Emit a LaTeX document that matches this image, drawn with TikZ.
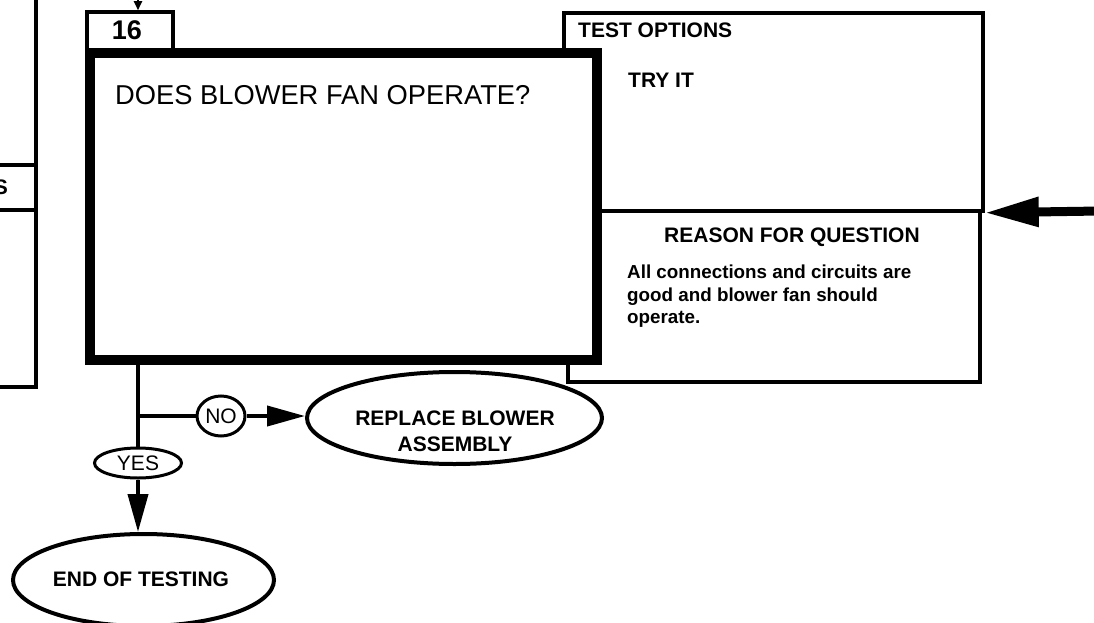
\documentclass[tikz,border=0pt]{standalone}
\usepackage{fontspec}
\setmainfont{Liberation Sans}
\usetikzlibrary{arrows.meta,shapes.geometric}
\begin{document}
\begin{tikzpicture}[x=1pt,y=-1pt,
  thinbox/.style={draw, rectangle, line width=3.5pt, inner sep=0pt},
  thickbox/.style={draw, rectangle, line width=10pt, inner sep=0pt, fill=white},
  oval/.style={draw, ellipse, line width=4pt, inner sep=0pt, fill=white},
  smalloval/.style={draw, ellipse, line width=3pt, inner sep=0pt, fill=white},
  hdr/.style={inner sep=0pt, font=\fontsize{21}{25}\selectfont\bfseries},
  lbl/.style={inner sep=0pt, font=\fontsize{21}{25}\selectfont},
  conn/.style={line width=4pt},
  bigtip/.style={-{Triangle[length=54pt,width=28pt]}},
  midtip/.style={-{Triangle[length=38pt,width=20pt]}}
]
\useasboundingbox (0,0) rectangle (1094,623);

% previous step box (cut off at left)
\node[thinbox, minimum width=96pt, minimum height=407pt] (prevbox) at (-12,183.5) {};
\draw[line width=3.5pt] (prevbox.west |- 0,165) -- (prevbox.east |- 0,165);
\draw[line width=3.5pt] (prevbox.west |- 0,210) -- (prevbox.east |- 0,210);
\node[hdr, anchor=east] (prevhdr) at (8,187) {S};

% test options / reason boxes
\node[thinbox, minimum width=419pt, minimum height=198pt] (testbox) at (773.5,112) {};
\node[thinbox, minimum width=412pt, minimum height=171pt] (reasonbox) at (774,296.5) {};
\node[hdr, anchor=west] (testhdr) at (578,30) {TEST OPTIONS};
\node[hdr, anchor=west] (tryit) at (628,80) {TRY IT};
\node[hdr, anchor=west] (reasonhdr) at (664,237) {REASON FOR QUESTION};
\node[inner sep=0pt, anchor=north west, align=left,
      font=\fontsize{18.8}{22.5}\selectfont\bfseries] (reasontxt) at (627,265)
  {All connections and circuits are\\good and blower fan should\\operate.};

% step number box and question box
\node[thinbox, fill=white, minimum width=86pt, minimum height=41pt] (num) at (130,32.5) {};
\node[hdr, font=\fontsize{27}{30}\selectfont\bfseries] (numtxt) at (127,30) {16};
\node[thickbox, minimum width=507pt, minimum height=307pt] (q16) at (343.5,206.5) {};
\node[inner sep=0pt, anchor=west, font=\fontsize{27.3}{30}\selectfont] (qtxt) at (115,95)
  {DOES BLOWER FAN OPERATE?};

% incoming arrows
\coordinate (topin) at (138,-20);
\draw[line width=2pt, -{Triangle[length=9pt,width=8pt]}] (topin) -- (topin |- num.north);
\coordinate (rin) at (1100,211);
\draw[line width=9pt, bigtip] (rin) -- (testbox.south east);

% outcomes
\node[oval, minimum width=295pt, minimum height=92pt] (replace) at (454.5,418) {};
\node[hdr, align=center, font=\fontsize{21}{26}\selectfont\bfseries] (replacetxt) at (455,431)
  {REPLACE BLOWER\\ASSEMBLY};
\node[oval, minimum width=261pt, minimum height=92pt] (endt) at (143.5,580) {};
\node[hdr] (endtxt) at (141,579) {END OF TESTING};
\node[smalloval, minimum width=48pt, minimum height=40pt] (no) at (221,416) {};
\node[lbl] (notxt) at (221,416) {NO};
\node[smalloval, minimum width=87pt, minimum height=30pt] (yes) at (138,463) {};
\node[lbl] (yestxt) at (138,463) {YES};

% connectors
\draw[conn] (yes.north |- q16.south) -- (yes.north);
\draw[conn] (yes.north |- no.west) -- (no.west);
\draw[conn, midtip] (no.east) -- (no.east -| replace.west);
\draw[conn, midtip] (yes.south) -- (yes.south |- endt.north);
\end{tikzpicture}
\end{document}
